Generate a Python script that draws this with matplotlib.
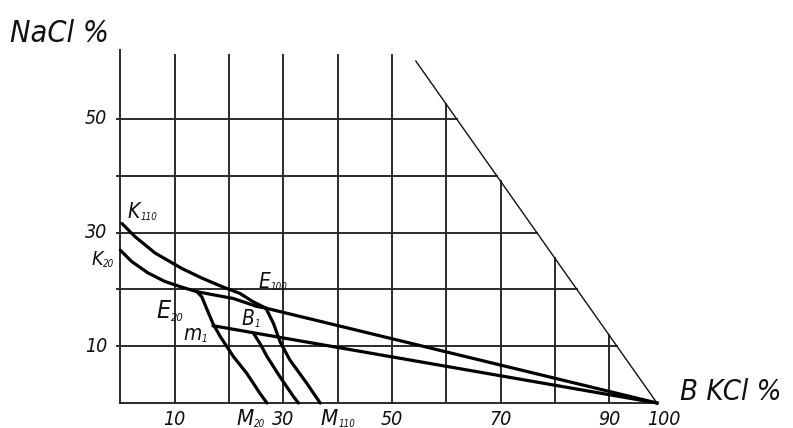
import matplotlib.pyplot as plt

# KCl, % (x) against NaCl, % (y)
k110_x = [0.3, 2.7, 6.4, 11.3, 15.0, 18.7, 22.0, 24.5, 26.8]
k110_y = [31.6, 29.3, 26.4, 23.7, 22.0, 20.5, 19.3, 17.8, 16.7]

k20_x = [0.0, 2.1, 5.1, 8.2, 11.3, 14.1]
k20_y = [26.9, 24.9, 22.9, 21.4, 20.4, 19.6]

e20_x = [14.1, 17.4, 20.8, 23.3, 25.1, 26.8]
e20_y = [19.6, 19.0, 18.4, 17.6, 17.0, 16.7]

m20_x = [14.1, 15.0, 15.9, 17.1, 18.4, 20.8, 23.3, 25.7, 27.0]
m20_y = [19.6, 18.7, 16.6, 13.9, 11.7, 8.2, 5.2, 1.7, 0.0]

b1_x = [24.5, 25.7, 27.0, 29.4, 31.9, 32.8]
b1_y = [12.3, 10.5, 8.2, 4.6, 1.1, 0.0]

m110_x = [26.8, 28.2, 29.4, 31.2, 34.3, 36.8]
m110_y = [16.7, 14.0, 10.8, 7.6, 3.5, 0.0]

e100 = (26.8, 16.7)
m1 = (17.1, 13.6)
kcl = (98.8, 0.0)

# boundary line across the upper right
limit_x = [54.4, 98.8]
limit_y = [60.2, 0.0]

grid_x = [10, 20, 30, 40, 50, 60, 70, 80, 90]
grid_y = [10, 20, 30, 40, 50]
xtick_vals = [10, 30, 50, 70, 90, 100]
xtick_text = ['10', '30', '50', '70', '90', '100']
ytick_vals = [10, 30, 50]
ytick_text = ['10', '30', '50']


def limit_at_y(y):
    return limit_x[0] + (limit_y[0] - y) / (limit_y[0] - limit_y[1]) * (limit_x[1] - limit_x[0])


def limit_at_x(x):
    return limit_y[0] + (x - limit_x[0]) / (limit_x[1] - limit_x[0]) * (limit_y[1] - limit_y[0])


font = dict(family=['DejaVu Sans'], stretch='condensed', style='italic', color='#111111')

fig = plt.figure(figsize=(7.93, 4.28), dpi=100)
ax = fig.add_axes([0, 0, 1, 1])
ax.set_xlim(-22.15, 123.84)
ax.set_ylim(-4.40, 70.95)
ax.axis('off')

gcol = '#2b2b2b'
glw = 1.4
# frame and grid
ax.plot([0, 0], [0, 62.2], color=gcol, lw=glw)
ax.plot([0, kcl[0]], [0, 0], color=gcol, lw=glw)
for gx in grid_x:
    top = min(61.3, limit_at_x(gx))
    ax.plot([gx, gx], [0, top], color=gcol, lw=glw)
for gy in grid_y:
    ax.plot([-0.6, limit_at_y(gy)], [gy, gy], color=gcol, lw=glw)

ax.plot(limit_x, limit_y, color='#111111', lw=1.0)

# solubility curves
clw = 2.3
for cx, cy in [(k110_x, k110_y), (k20_x, k20_y), (e20_x, e20_y),
               (m20_x, m20_y), (b1_x, b1_y), (m110_x, m110_y)]:
    ax.plot(cx, cy, color='black', lw=clw, solid_capstyle='round')
ax.plot([e100[0], kcl[0]], [e100[1], kcl[1]], color='black', lw=clw)
ax.plot([m1[0], kcl[0]], [m1[1], kcl[1]], color='black', lw=clw)


def label(x, y, main, sub, size, subsize):
    t = ax.text(x, y, main, fontsize=size, ha='left', va='baseline', **font)
    ax.annotate(sub, xy=(1, 0), xycoords=t, xytext=(0.3, 0), textcoords='offset points',
                fontsize=subsize, ha='left', va='bottom', **font)


label(1.4, 32.6, 'K', '110', 15, 7)
label(-5.3, 24.3, 'K', '20', 14, 7)
label(25.4, 20.3, 'E', '100', 15, 7)
label(6.7, 14.9, 'E', '20', 18, 8)
label(22.3, 13.7, 'B', '1', 15, 7)
label(11.6, 11.1, 'm', '1', 15, 7)
label(21.3, -3.9, 'M', '20', 16, 7)
label(36.9, -3.9, 'M', '110', 16, 7)

for v, s in zip(xtick_vals, xtick_text):
    ax.text(v, -3.9, s, fontsize=14, ha='center', va='baseline', **font)
for v, s in zip(ytick_vals, ytick_text):
    ax.text(-2.4, v, s, fontsize=14, ha='right', va='center', **font)

ax.text(-20.3, 63.6, 'NaCl %', fontsize=22, ha='left', va='baseline', **font)
ax.text(103.0, 0.5, 'B KCl %', fontsize=21, ha='left', va='baseline', **font)

fig.savefig('out.png', dpi=100)
